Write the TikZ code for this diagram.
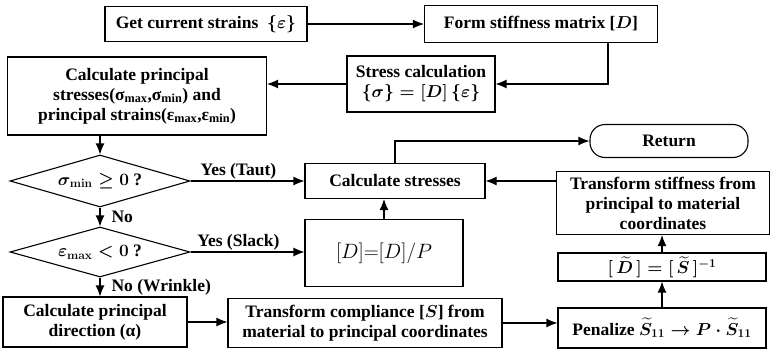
\documentclass[tikz,border=0pt]{standalone}
\usepackage{amsmath,amssymb}
\usepackage{fontspec}
\setmainfont{Liberation Serif}
\usepackage{tikz}
\usetikzlibrary{shapes.geometric,arrows.meta}

\begin{document}
\begin{tikzpicture}[
    x=1pt, y=-1pt,
    every node/.style={font=\fontsize{17.5}{20}\selectfont\bfseries\boldmath, text=black},
    box/.style={draw, line width=1.1pt, align=center, inner sep=2pt},
    decide/.style={draw, diamond, aspect=3.6, line width=1.1pt, inner sep=0pt},
    term/.style={draw, line width=1.1pt, rounded corners=15pt, align=center},
    flow/.style={-{Latex[length=11pt,width=9pt]}, line width=1.1pt},
    lbl/.style={inner sep=1pt},
  ]
  \useasboundingbox (0,0) rectangle (774,351);

  % top row
  \node[box, minimum width=202pt, minimum height=35pt] (get) at (206,24)
        {Get current strains\ \ $\{\varepsilon\}$};
  \node[box, minimum width=233pt, minimum height=37pt] (form) at (541,24)
        {Form stiffness matrix [$D$]};
  \node[box, minimum width=148pt, minimum height=56pt] (stress) at (421,84)
        {Stress calculation\\ $\{\sigma\}=[D]\,\{\varepsilon\}$};
  \node[box, minimum width=259pt, minimum height=78pt] (cps) at (137,96)
        {Calculate principal\\ stresses(σ\textsubscript{max},σ\textsubscript{min}) and\\
         principal strains(ε\textsubscript{max},ε\textsubscript{min})};

  % the two checks
  \node[decide, minimum width=180pt, minimum height=52pt] (taut) at (100,181)
        {$\sigma_{\mathbf{min}}\geq 0$ ?};
  \node[decide, minimum width=180pt, minimum height=50pt] (slack) at (100,252)
        {$\varepsilon_{\mathbf{max}} < 0$ ?};

  % middle column
  \node[box, minimum width=180pt, minimum height=35pt] (calcs) at (395,181)
        {Calculate stresses};
  \node[box, minimum width=158pt, minimum height=67pt,
        font=\fontsize{21}{24}\selectfont] (dp) at (384,253)
        {$[D]{=}[D]/P$};
  \node[term, minimum width=158pt, minimum height=33pt] (ret) at (669,141)
        {Return};

  % right column
  \node[box, minimum width=213pt, minimum height=63pt] (tstiff) at (663,203)
        {Transform stiffness from\\ principal to material\\ coordinates};
  \node[box, minimum width=208pt, minimum height=28pt] (dtil) at (662,267)
        {$[\,\widetilde{D}\,]=[\,\widetilde{S}\,]^{-1}$};
  \node[box, minimum width=208pt, minimum height=40pt] (pen) at (662,328)
        {Penalize\ $\widetilde{S}_{11}\rightarrow P\cdot\widetilde{S}_{11}$};

  % bottom row
  \node[box, minimum width=184pt, minimum height=50pt] (cpd) at (95,322)
        {Calculate principal\\ direction (α)};
  \node[box, minimum width=274pt, minimum height=49pt] (tcomp) at (365,323)
        {Transform compliance [$S$] from\\ material to principal coordinates};

  % connectors
  \draw[flow] (get) -- (form);
  \draw[flow] ([xshift=67pt]form.south) |- (stress.east);
  \draw[flow] (stress.west) -- (stress.west -| cps.east);
  \draw[flow] (cps.south -| taut.north) -- (taut.north);
  \draw[flow] (taut.east) -- (calcs.west)
        node[lbl, pos=0.42, above] {Yes (Taut)};
  \draw[flow] (taut.south) -- (slack.north)
        node[lbl, midway, right, xshift=10pt] {No};
  \draw[flow] (slack.east) -- (slack.east -| dp.west)
        node[lbl, pos=0.42, above] {Yes (Slack)};
  \draw[flow] (slack.south) -- (slack.south |- cpd.north)
        node[lbl, midway, right, xshift=10pt] {No (Wrinkle)};
  \draw[flow] (dp.north) -- (dp.north |- calcs.south);
  \draw[flow] (calcs.north) |- (ret.west);
  \draw[flow] (calcs.east -| tstiff.west) -- (calcs.east);
  \draw[flow] (dtil.north) -- (dtil.north |- tstiff.south);
  \draw[flow] (pen.north) -- (dtil.south);
  \draw[flow] (cpd.east) -- (cpd.east -| tcomp.west);
  \draw[flow] (tcomp.east) -- (tcomp.east -| pen.west);
\end{tikzpicture}
\end{document}
